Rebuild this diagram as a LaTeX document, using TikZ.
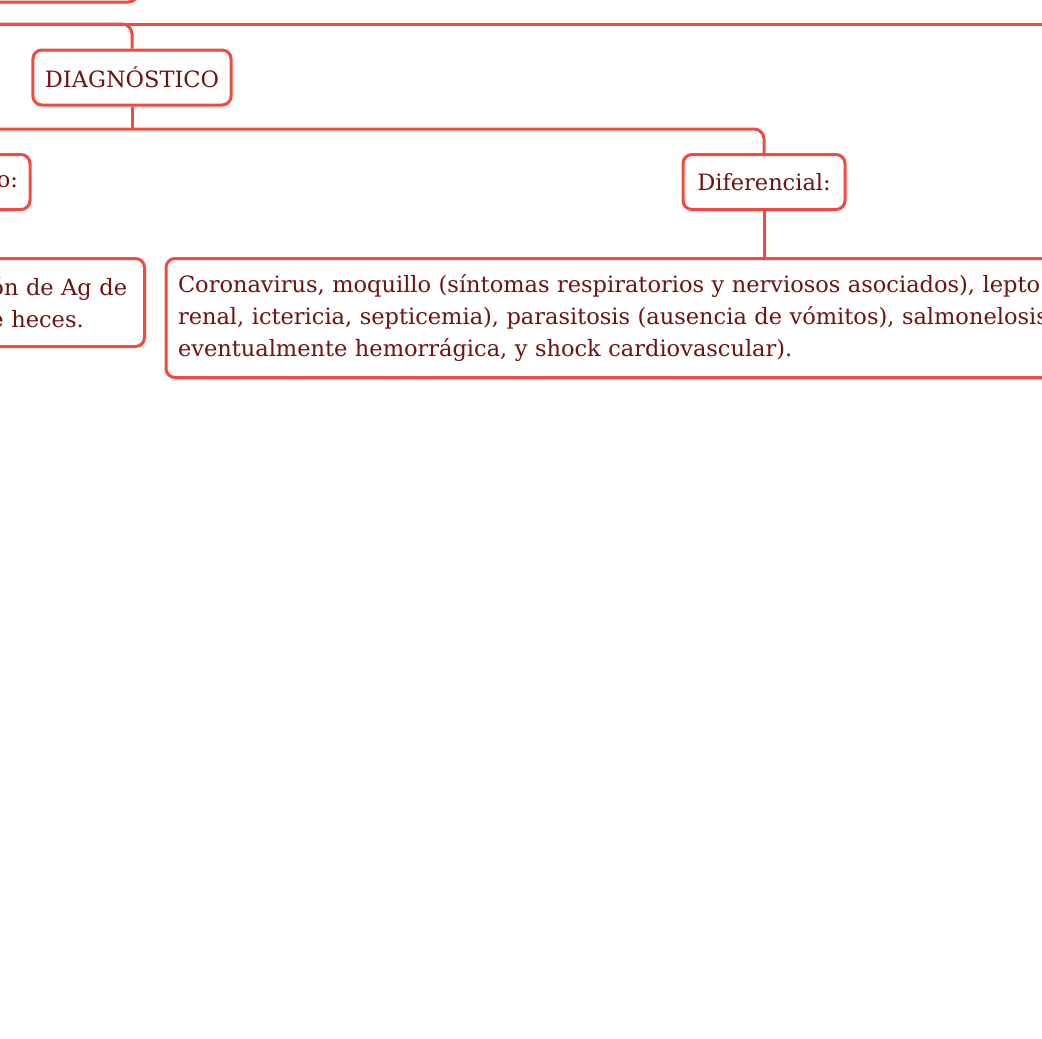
\documentclass[tikz,border=0pt]{standalone}
\usepackage{fontspec}
\setmainfont{DejaVu Serif}
\definecolor{mapred}{RGB}{244,73,64}
\definecolor{maptext}{RGB}{110,18,18}
\begin{document}
\begin{tikzpicture}[x=1pt,y=-1pt,
        box/.style={draw=mapred, line width=3pt, rounded corners=9pt, fill=white,
            text=maptext, minimum height=55pt, inner xsep=12pt,
            font=\fontsize{22.5}{32}\selectfont},
        link/.style={draw=mapred, line width=3pt, rounded corners=10pt}]
        \useasboundingbox (0,0) rectangle (1042,1039);
        \clip (0,0) rectangle (1042,1039);
        \draw (139,3.5) node[box, anchor=south east, minimum width=260pt](top){};
        \draw (132,77.5) node[box, minimum width=198pt](diag){DIAGNÓSTICO};
        \draw (31.5,182) node[box, anchor=east, text width=100pt, align=right](spec){o:};
        \draw (764,182) node[box, minimum width=162pt](dif){Diferencial:};
        \draw (146,257) node[box, anchor=north east, minimum height=88pt,
            text width=142pt, align=left](det){ón de Ag de\\e heces.};
        \draw (164.5,257) node[box, anchor=north west, minimum height=119pt,
            text width=1000pt, align=left](ddx){Coronavirus, moquillo (síntomas respiratorios y nerviosos asociados), lepto\\
            renal, ictericia, septicemia), parasitosis (ausencia de vómitos), salmonelosis\\
            eventualmente hemorrágica, y shock cardiovascular).};
        % connectors
        \coordinate (trunk) at (-20,24);
        \coordinate (busend) at (1060,24);
        \coordinate (fork) at (132,129);
        \draw[link] (trunk) -| (diag.north);
        \draw[link] (trunk) -- (busend);
        \draw[link] (diag.south) -- (fork);
        \draw[link] (fork) -| (dif.north);
        \draw[link] (fork) -| (spec.north);
        \draw[link] (dif.south) -- (ddx.north -| dif.south);
    \end{tikzpicture}
\end{document}
